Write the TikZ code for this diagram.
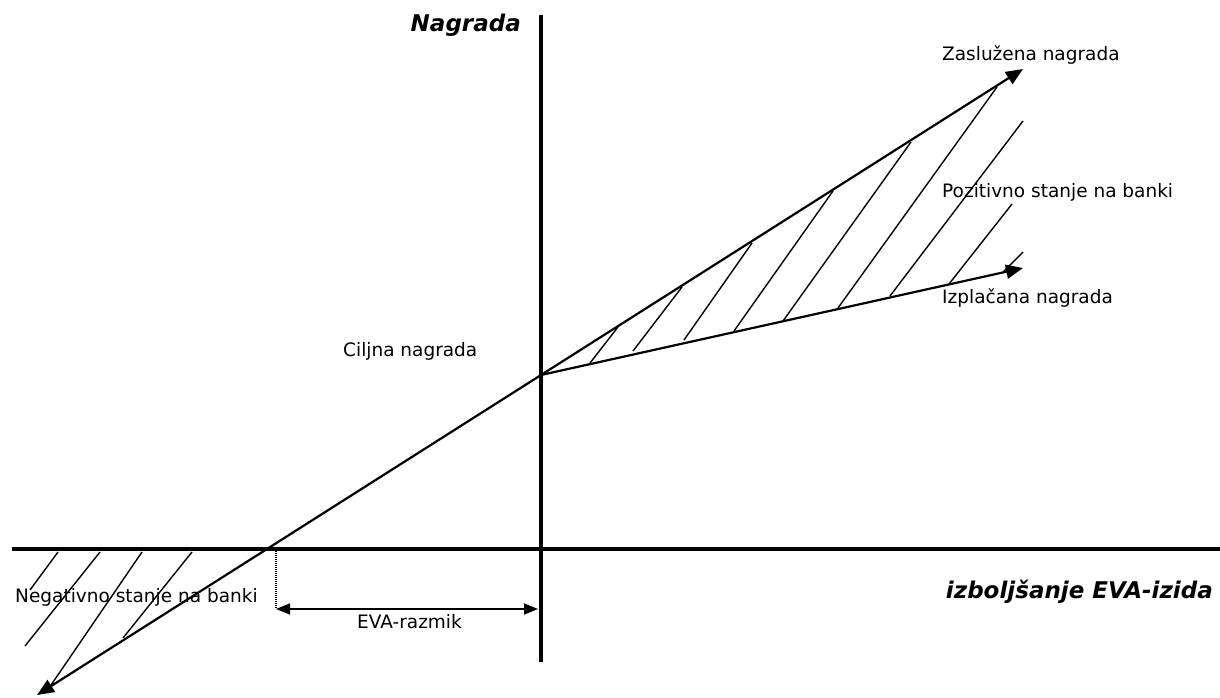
\documentclass[tikz,border=0pt]{standalone}
\usepackage{fontspec}
\setmainfont{DejaVu Sans}
\usetikzlibrary{arrows.meta}
\begin{document}
\begin{tikzpicture}[x=1pt,y=-1pt,
  axis/.style={line width=4.5pt},
  curve/.style={line width=2.2pt},
  hatch/.style={line width=1.4pt},
  bigtip/.tip={Triangle[length=17pt,width=14pt]},
  smalltip/.tip={Triangle[length=14pt,width=11pt]},
  lbl/.style={anchor=base west,inner sep=0pt,font=\fontsize{18.5}{20}\selectfont},
  bl/.style={anchor=base east,inner sep=0pt,font=\fontsize{23}{25}\selectfont\bfseries\itshape}]
\useasboundingbox (0,0) rectangle (1220,698);
% axes
\coordinate (vtop) at (541,15);
\coordinate (vbot) at (541,662);
\coordinate (hl) at (12,549);
\coordinate (hr) at (1220,549);
\draw[axis] (vtop) -- (vbot);
\draw[axis] (hl) -- (hr);
% key points
\coordinate (T) at (541,375);
\coordinate (Z) at (1023,69);
\coordinate (N) at (37,695);
\coordinate (I) at (1023,268);
\draw[curve,bigtip-bigtip] (N) -- (Z);
\draw[curve,-bigtip] (T) -- (I);
% hatching upper
\foreach \a/\b/\c/\d in {590/363/618/327, 633/351/682/287, 684/340/752/243,
  734/331/833/191, 783/321/911/142, 838/308/997/87, 890/296/1023/121,
  949/284/1012/204, 1003/272/1023/252}
  \draw[hatch] (\a,\b) -- (\c,\d);
% hatching lower
\foreach \a/\b/\c/\d in {58/552/30/590, 100/552/25/646, 142/552/49/688, 192/552/123/638}
  \draw[hatch] (\a,\b) -- (\c,\d);
% EVA gap
\coordinate (g1) at (276,551);
\coordinate (g2) at (276,609);
\coordinate (g3) at (538,609);
\draw[line width=1.6pt,dash pattern=on 1pt off 1pt] (g1) -- (g2);
\draw[line width=1.6pt,smalltip-smalltip] (g2) -- (g3);
% labels
\node[bl] (nag) at (521,32) {Nagrada};
\node[bl] (evai) at (1213,598) {izboljšanje EVA-izida};
\node[lbl] (zas) at (942,61) {Zaslužena nagrada};
\node[lbl] (poz) at (942,197) {Pozitivno stanje na banki};
\node[lbl] (izp) at (942,303) {Izplačana nagrada};
\node[lbl] (cil) at (343,356) {Ciljna nagrada};
\node[lbl] (neg) at (15,602) {Negativno stanje na banki};
\node[lbl] (raz) at (357,628) {EVA-razmik};
\end{tikzpicture}
\end{document}
